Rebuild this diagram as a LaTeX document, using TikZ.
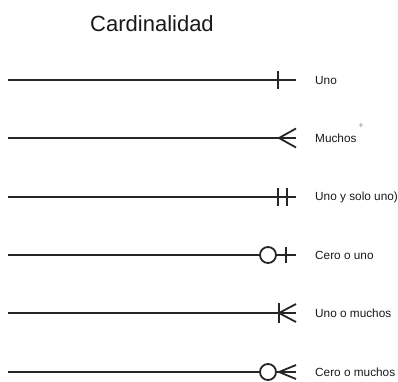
\documentclass[tikz,border=0pt]{standalone}
\usepackage{fontspec}
\setmainfont{Liberation Sans}
\usetikzlibrary{positioning}

\tikzset{
  rel/.style={line width=1.8pt, draw=black!85},
  lbl/.style={inner sep=0pt, font=\fontsize{11.8}{13}\selectfont, text=black!90}
}

\begin{document}
\begin{tikzpicture}[x=1pt,y=-1pt]
\useasboundingbox (0,0) rectangle (398,381);
\node[font=\fontsize{22}{26}\selectfont, text=black!90] (title) at (152,24) {Cardinalidad};
% Uno
\coordinate (a1) at (8,80);
\coordinate (b1) at (296,80);
\draw[rel] (a1) -- (b1);
\draw[rel] ([xshift=-18pt,yshift=9pt]b1) -- ([xshift=-18pt,yshift=-9pt]b1);
\node[lbl, right=19pt of b1] (uno) {Uno};
% Muchos
\coordinate (a2) at (8,138);
\coordinate (b2) at (296,138);
\draw[rel] (a2) -- (b2);
\draw[rel] ([yshift=9.5pt]b2) -- ([xshift=-17pt]b2) -- ([yshift=-9.5pt]b2);
\node[lbl, right=19pt of b2] (muchos) {Muchos};
\node[font=\fontsize{9}{10}\selectfont, text=black!45, inner sep=0pt] (cursor) at (361,126) {+};
% Uno y solo uno
\coordinate (a3) at (8,197);
\coordinate (b3) at (296,197);
\draw[rel] (a3) -- (b3);
\draw[rel] ([xshift=-18pt,yshift=9pt]b3) -- ([xshift=-18pt,yshift=-9pt]b3);
\draw[rel] ([xshift=-9pt,yshift=9pt]b3) -- ([xshift=-9pt,yshift=-9pt]b3);
\node[lbl, right=19pt of b3] (unosolo) {Uno y solo uno)};
% Cero o uno
\coordinate (a4) at (8,255);
\coordinate (b4) at (296,255);
\draw[rel] (a4) -- (b4);
\draw[rel, fill=white] ([xshift=-28pt]b4) circle (8pt);
\draw[rel] ([xshift=-10pt,yshift=8pt]b4) -- ([xshift=-10pt,yshift=-8pt]b4);
\node[lbl, right=19pt of b4] (ceroouno) {Cero o uno};
% Uno o muchos
\coordinate (a5) at (8,313);
\coordinate (b5) at (296,313);
\draw[rel] (a5) -- (b5);
\draw[rel] ([xshift=-17pt,yshift=10pt]b5) -- ([xshift=-17pt,yshift=-10pt]b5);
\draw[rel] ([yshift=9pt]b5) -- ([xshift=-17pt]b5) -- ([yshift=-9pt]b5);
\node[lbl, right=19pt of b5] (unomuchos) {Uno o muchos};
% Cero o muchos
\coordinate (a6) at (8,372);
\coordinate (b6) at (296,372);
\draw[rel] (a6) -- (b6);
\draw[rel, fill=white] ([xshift=-28pt]b6) circle (8pt);
\draw[rel] ([yshift=7pt]b6) -- ([xshift=-17pt]b6) -- ([yshift=-7pt]b6);
\node[lbl, right=19pt of b6] (ceromuchos) {Cero o muchos};
\end{tikzpicture}
\end{document}
